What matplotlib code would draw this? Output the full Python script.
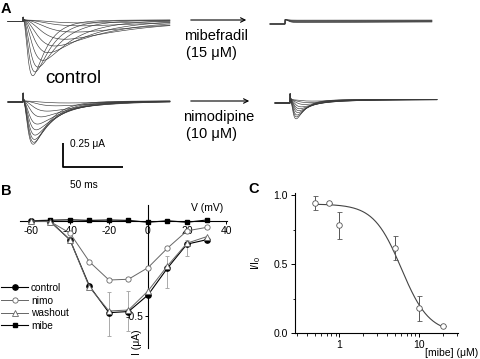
import numpy as np
import matplotlib
matplotlib.use('Agg')
import matplotlib.pyplot as plt

plt.rcParams['font.family'] = ['Liberation Sans', 'DejaVu Sans']
plt.rcParams['mathtext.default'] = 'regular'
plt.rcParams['axes.unicode_minus'] = False

W, H = 480, 359


def fx(x):
    return x / W


def fy(y):
    return 1 - y / H


# ── Panel A: current traces (amplitude in uA, kinetics in ms) ───────
ctrl1_amp = [0.58, 0.54, 0.49, 0.42, 0.34, 0.27, 0.20, 0.125, 0.06, 0.03]
ctrl1_tm = [3.3, 4.0, 5.0, 6.5, 8.0, 10.0, 13.0, 16.0, 18.0, 20.0]
ctrl1_th = [12, 15, 19, 26, 35, 45, 60, 75, 80, 85]

ctrl2_amp = [0.45, 0.43, 0.40, 0.355, 0.30, 0.24, 0.165, 0.105, 0.05, 0.02]
ctrl2_tm = [3.2, 3.3, 3.4, 3.5, 3.7, 4.0, 5.0, 7.0, 10.0, 14.0]
ctrl2_th = [14, 16, 18, 20, 23, 26, 32, 40, 50, 60]

mibe_amp = [0.03, 0.025, 0.02, 0.015, 0.01, 0.005]
mibe_tm = [2.0, 2.0, 2.0, 2.0, 2.0, 2.0]
mibe_th = [500, 500, 500, 500, 500, 500]

nimo_amp = [0.20, 0.18, 0.16, 0.135, 0.115, 0.095, 0.075, 0.05, 0.03, 0.015]
nimo_tm = [2.0, 2.1, 2.2, 2.4, 2.6, 2.8, 3.2, 4.0, 5.0, 6.0]
nimo_th = [8, 9, 10, 12, 14, 16, 20, 26, 34, 44]

# ── Panel B: I-V relation ───────────────────────────────────────────
volt = [-60, -50, -40, -30, -20, -10, 0, 10, 20, 30]
i_control = [0.0, -0.005, -0.10, -0.344, -0.484, -0.478, -0.391, -0.249, -0.123, -0.10]
i_nimo = [0.0, -0.005, -0.065, -0.216, -0.312, -0.308, -0.247, -0.144, -0.053, -0.035]
i_washout = [0.0, -0.005, -0.10, -0.35, -0.475, -0.47, -0.37, -0.237, -0.118, -0.084]
i_mibe = [0.0, 0.003, 0.005, 0.002, 0.004, 0.002, -0.008, 0.0, -0.008, 0.004]
err_volt = [-20, -10, 10, 20]
err_val = [-0.489, -0.473, -0.27, -0.144]
err_size = [0.116, 0.105, 0.082, 0.044]

# ── Panel C: dose response ──────────────────────────────────────────
conc = [0.5, 0.75, 1, 5, 10, 20]
rel_i = [0.945, 0.94, 0.78, 0.615, 0.18, 0.05]
rel_err = [0.05, 0.0, 0.095, 0.085, 0.09, 0.0]
fit_top, fit_ic50, fit_n = 0.935, 6.0, 2.5

fig = plt.figure(figsize=(4.8, 3.59), dpi=100)

# axes A: 1 ms = 1.2 px, 1 uA = 96 px
axA = fig.add_axes([0, fy(192), 1, 192 / H])
axA.set_xlim(0, W / 1.2)
axA.set_ylim(-192 / 96, 0)
axA.axis('off')

t = np.arange(0, 135, 0.1)
t_on = 12.5


def draw_group(x0, base, amps, tms, ths, hold, spike):
    s = np.clip(t - t_on, 0, None)
    on = (t > t_on).astype(float)
    for A, tm, th in zip(amps, tms, ths):
        shape = (1 - np.exp(-s / tm)) ** 3 * np.exp(-s / th)
        shape /= shape.max()
        cur = -A * shape + hold * on + spike * np.exp(-s / 0.35) * on
        axA.plot(x0 / 1.2 + t, -base / 96 + cur, color='#3a3a3a', lw=0.45)


draw_group(8, 21.5, ctrl1_amp, ctrl1_tm, ctrl1_th, 0.015, 0.04)
draw_group(8, 102, ctrl2_amp, ctrl2_tm, ctrl2_th, 0.01, 0.11)
draw_group(270, 24, mibe_amp, mibe_tm, mibe_th, 0.045, 0.0)
draw_group(275, 103, nimo_amp, nimo_tm, nimo_th, 0.035, 0.08)

# scale bar: 0.25 uA, 50 ms
sb_x, sb_y = 63 / 1.2, -167 / 96
axA.plot([sb_x, sb_x, sb_x + 50], [sb_y + 0.25, sb_y, sb_y], color='k', lw=1.3,
         solid_capstyle='butt')

for y0, x1 in [(20, 249), (101, 252)]:
    fig.add_artist(matplotlib.patches.FancyArrowPatch(
        (fx(188), fy(y0)), (fx(x1), fy(y0)), transform=fig.transFigure,
        arrowstyle='->', mutation_scale=8, lw=0.8, color='k'))

fig.text(fx(45), fy(83), 'control', fontsize=13.5, va='baseline')
fig.text(fx(184), fy(40), 'mibefradil', fontsize=10.5, va='baseline')
fig.text(fx(186), fy(57), '(15 μM)', fontsize=10.5, va='baseline')
fig.text(fx(183), fy(121), 'nimodipine', fontsize=10.5, va='baseline')
fig.text(fx(186), fy(138), '(10 μM)', fontsize=10.5, va='baseline')
fig.text(fx(70), fy(147), '0.25 μA', fontsize=7.3, va='baseline')
fig.text(fx(70), fy(188), '50 ms', fontsize=7.3, va='baseline')

fig.text(fx(1), fy(13), 'A', fontsize=10.5, weight='bold', va='baseline')
fig.text(fx(1), fy(195), 'B', fontsize=10.5, weight='bold', va='baseline')
fig.text(fx(248), fy(193), 'C', fontsize=10.5, weight='bold', va='baseline')

# ── axes B ──────────────────────────────────────────────────────────
axB = fig.add_axes([fx(20), fy(348), (227 - 20) / W, (348 - 205) / H])
axB.set_xlim(-65.6, 40.5)
axB.set_ylim(-0.67, 0.083)
axB.patch.set_alpha(0)
for sp in ['top', 'right']:
    axB.spines[sp].set_visible(False)
axB.spines['left'].set_position(('data', 0))
axB.spines['bottom'].set_position(('data', 0))
for sp in ['left', 'bottom']:
    axB.spines[sp].set_linewidth(0.8)
axB.set_xticks([-60, -40, -20, 0, 20, 40])
axB.set_yticks([-0.5])
axB.set_yticklabels(['-0.5'])
axB.tick_params(labelsize=7.5, length=2, width=0.7, pad=1.5)

axB.errorbar(err_volt, err_val, yerr=err_size, fmt='none', ecolor='#aaaaaa',
             elinewidth=0.7, capsize=1.5, capthick=0.7, zorder=1)
l1, = axB.plot(volt, i_control, '-o', color='k', lw=0.8, ms=3.8, zorder=3,
               label='control')
l2, = axB.plot(volt, i_nimo, '-o', color='#666666', lw=0.7, ms=3.8, mfc='white',
               mew=0.6, zorder=3, label='nimo')
l3, = axB.plot(volt, i_washout, '-^', color='#666666', lw=0.7, ms=4.2, mfc='white',
               mew=0.6, zorder=4, label='washout')
l4, = axB.plot(volt, i_mibe, '-s', color='k', lw=0.8, ms=3.5, zorder=3, label='mibe')
axB.legend(handles=[l1, l2, l3, l4], loc='upper left', bbox_to_anchor=(fx(1), fy(283)),
           bbox_transform=fig.transFigure, frameon=False, fontsize=7.3,
           handlelength=2.7, handletextpad=0.25, labelspacing=0.25,
           borderpad=0, borderaxespad=0)

fig.text(fx(223), fy(211), 'V (mV)', fontsize=7.5, ha='right', va='baseline')
fig.text(fx(137), fy(342), 'I (μA)', fontsize=7.5, rotation=90, ha='center', va='center')

# ── axes C ──────────────────────────────────────────────────────────
axC = fig.add_axes([fx(295), fy(333), (458 - 295) / W, (333 - 193) / H])
axC.set_xscale('log')
axC.set_xlim(0.28, 30.7)
axC.set_ylim(0, 1.015)
for sp in ['top', 'right']:
    axC.spines[sp].set_visible(False)
for sp in ['left', 'bottom']:
    axC.spines[sp].set_linewidth(0.8)
axC.set_xticks([1, 10])
axC.set_xticklabels(['1', '10'])
axC.set_yticks([0, 0.5, 1.0])
axC.set_yticklabels(['0.0', '0.5', '1.0'])
axC.set_yticks([0.25, 0.75], minor=True)
axC.tick_params(labelsize=7.5, length=3, width=0.7, pad=2)
axC.tick_params(which='minor', length=1.8, width=0.6)

xf = np.logspace(np.log10(0.5), np.log10(20), 200)
axC.plot(xf, fit_top / (1 + (xf / fit_ic50) ** fit_n), color='#444444', lw=0.8)
axC.errorbar(conc, rel_i, yerr=rel_err, fmt='o', color='#555555', mfc='white',
             mec='#555555', ms=4, mew=0.6, elinewidth=0.7, capsize=1.8, capthick=0.7)

fig.text(fx(256), fy(263), 'I/I$_0$', fontsize=7.5, rotation=90, ha='center', va='center')
fig.text(fx(478), fy(356), '[mibe] (μM)', fontsize=7.5, ha='right', va='baseline')

fig.savefig('out.png', dpi=100)
